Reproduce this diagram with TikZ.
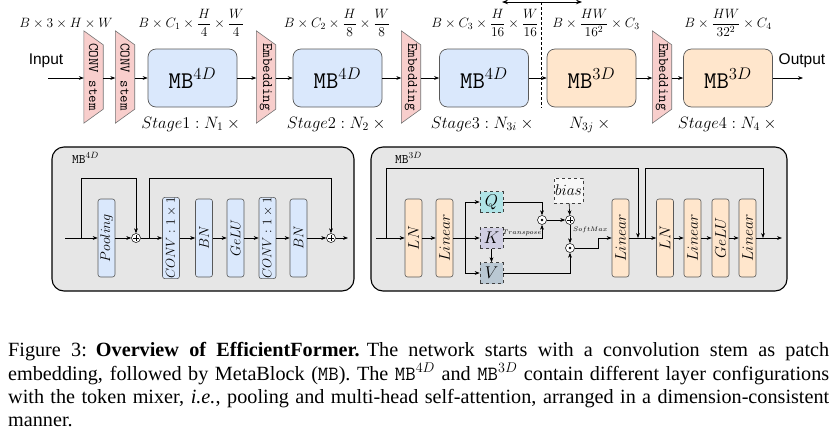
\RequirePackage{fix-cm}
\documentclass[tikz,border=0pt]{standalone}
\usepackage{fontspec}
\newfontfamily\capfont{Liberation Serif}
\newfontfamily\lsans{Liberation Sans}
\usetikzlibrary{arrows.meta,calc}
\definecolor{blu}{HTML}{DAE8FC}
\definecolor{org}{HTML}{FFE6CC}
\definecolor{pnk}{HTML}{F8CECC}
\definecolor{qcol}{HTML}{B0E3E6}
\definecolor{kcol}{HTML}{D0CEE2}
\definecolor{vcol}{HTML}{BAC8D3}
\definecolor{bcol}{HTML}{F7F7F7}
\definecolor{panelc}{HTML}{E6E6E6}
\begin{document}
\begin{tikzpicture}[x=1pt,y=-1pt,
  arr/.style={-{Stealth[length=5pt,width=3.8pt]}, line width=0.6pt, draw=black},
  lnk/.style={line width=0.6pt, draw=black},
  mbf/.style={draw=black!65, line width=0.7pt, rounded corners=8pt, minimum width=89pt, minimum height=58pt, inner sep=0pt, font=\fontsize{24}{28}\selectfont},
  mbfour/.style={mbf, fill=blu},
  mbthree/.style={mbf, fill=org},
  trapn/.style={minimum width=19pt, minimum height=92pt, inner sep=0pt},
  trapd/.style={draw=black!55, fill=pnk, line width=0.6pt},
  traptxt/.style={rotate=-90, font=\ttfamily\fontsize{14.5}{16}\selectfont, inner sep=0pt},
  lbl/.style={anchor=base, inner sep=0pt, font=\fontsize{13.5}{16}\selectfont},
  stg/.style={anchor=base, inner sep=0pt, font=\fontsize{16.5}{19}\selectfont},
  iolbl/.style={anchor=base, inner sep=0pt, font=\lsans\fontsize{15.5}{18}\selectfont},
  pbox/.style={rotate=90, draw=black!65, line width=0.6pt, rounded corners=2.5pt, minimum width=78pt, minimum height=17pt, inner sep=0pt},
  pbl/.style={pbox, fill=blu, font=\fontsize{14}{16}\selectfont},
  por/.style={pbox, fill=org, font=\fontsize{15.5}{18}\selectfont},
  qkv/.style={draw=black!75, dashed, line width=0.6pt, minimum width=23pt, minimum height=21pt, inner sep=0pt, font=\fontsize{17}{19}\selectfont},
  opc/.style={circle, draw=black, fill=white, line width=0.5pt, minimum size=9pt, inner sep=0pt},
  plusc/.style={opc, path picture={\draw[black, line width=0.4pt] ($(path picture bounding box.center)+(-2.6,0)$) -- ($(path picture bounding box.center)+(2.6,0)$) ($(path picture bounding box.center)+(0,-2.6)$) -- ($(path picture bounding box.center)+(0,2.6)$);}},
  dotc/.style={opc, path picture={\fill[black] (path picture bounding box.center) circle (1.3pt);}},
  panelbox/.style={draw=black, line width=1.1pt, fill=panelc, rounded corners=12pt},
  plbl/.style={anchor=base west, inner sep=0pt, font=\fontsize{13}{15}\selectfont},
  tinylbl/.style={inner sep=0pt, font=\fontsize{6.5}{8}\selectfont}
]
\useasboundingbox (0,0) rectangle (831,432);

% ---------------- top row ----------------
\coordinate (tl) at (502,2);
\coordinate (tr) at (582,2);
\coordinate (dtop) at (541,2);
\coordinate (dbot) at (541,108);
\draw[{Stealth[length=6pt,width=4.5pt]}-{Stealth[length=6pt,width=4.5pt]}, line width=0.8pt] (tl) -- (tr);
\draw[densely dashed, line width=0.5pt] (dtop) -- (dbot);

\node[iolbl] (inp) at (46,64.5) {Input};
\node[iolbl] (outp) at (802,64.5) {Output};
\coordinate (ins) at (48,78);
\coordinate (oute) at (803,78);

\node[trapn] (s1) at (93.5,77) {};
\node[trapn] (s2) at (125,77) {};
\node[trapn] (e1) at (266,77) {};
\node[trapn] (e2) at (411,77) {};
\node[trapn] (e3) at (662,77) {};
\foreach \t in {s1,s2,e1,e2,e3}{
  \draw[trapd] (\t.north west) -- ($(\t.north east)+(0,14)$) -- ($(\t.south east)+(0,-14)$) -- (\t.south west) -- cycle;
}
\node[traptxt] (s1t) at (s1) {CONV stem};
\node[traptxt] (s2t) at (s2) {CONV stem};
\node[traptxt] (e1t) at (e1) {Embedding};
\node[traptxt] (e2t) at (e2) {Embedding};
\node[traptxt] (e3t) at (e3) {Embedding};

\node[mbfour] (m1) at (192.5,78) {{\ttfamily MB}$^{4D}$};
\node[mbfour] (m2) at (337.5,78) {{\ttfamily MB}$^{4D}$};
\node[mbfour] (m3) at (484,78) {{\ttfamily MB}$^{4D}$};
\node[mbthree] (m4) at (591.5,78) {{\ttfamily MB}$^{3D}$};
\node[mbthree] (m5) at (728,78) {{\ttfamily MB}$^{3D}$};

\draw[arr] (ins) -- (s1.west |- ins);
\draw[arr] (s1.east |- ins) -- (s2.west |- ins);
\draw[arr] (s2.east |- ins) -- (m1);
\draw[arr] (m1) -- (e1.west |- m1);
\draw[arr] (e1.east |- m1) -- (m2);
\draw[arr] (m2) -- (e2.west |- m2);
\draw[arr] (e2.east |- m2) -- (m3);
\draw[arr] (m3) -- (m4);
\draw[arr] (m4) -- (e3.west |- m4);
\draw[arr] (e3.east |- m4) -- (m5);
\draw[arr] (m5) -- (oute);

\node[lbl] (l0) at (66,27.5) {$B\times 3\times H\times W$};
\node[lbl] (l1) at (191.5,27.5) {$\displaystyle B\times C_1\times\frac{H}{4}\times\frac{W}{4}$};
\node[lbl] (l2) at (337,27.5) {$\displaystyle B\times C_2\times\frac{H}{8}\times\frac{W}{8}$};
\node[lbl] (l3) at (485,27.5) {$\displaystyle B\times C_3\times\frac{H}{16}\times\frac{W}{16}$};
\node[lbl] (l4) at (596,27.5) {$\displaystyle B\times\frac{HW}{16^2}\times C_3$};
\node[lbl] (l5) at (728,27.5) {$\displaystyle B\times\frac{HW}{32^2}\times C_4$};

\node[stg] (g1) at (192.5,128) {$Stage1:N_1\times{}$};
\node[stg] (g2) at (338,128) {$Stage2:N_2\times{}$};
\node[stg] (g3) at (484,128) {$Stage3:N_{3i}\times{}$};
\node[stg] (g4) at (591.5,128) {$N_{3j}\times{}$};
\node[stg] (g5) at (729,128) {$Stage4:N_4\times{}$};

% ---------------- bottom-left panel ----------------
\draw[panelbox] (52,147) rectangle (354,291);
\node[plbl] (pl1) at (72,163) {\texttt{MB}$^{4D}$};
\coordinate (a0) at (65,238);
\coordinate (a1) at (81,238);
\node[pbl] (pool) at (106.5,238) {$Pooling$};
\node[plusc] (p1) at (136,238) {};
\coordinate (a2) at (149,238);
\node[pbl, font=\fontsize{13}{15}\selectfont] (cv1) at (171,238) {$CONV:1\times1$};
\node[pbl] (bn1) at (204,238) {$BN$};
\node[pbl] (ge1) at (235.5,238) {$GeLU$};
\node[pbl, font=\fontsize{13}{15}\selectfont] (cv2) at (267.5,238) {$CONV:1\times1$};
\node[pbl] (bn2) at (298.5,238) {$BN$};
\node[plusc] (p2) at (331,238) {};
\coordinate (a3) at (348,238);

\draw[arr] (a0) -- (pool);
\draw[arr] (pool) -- (p1);
\draw[arr] (p1) -- (cv1);
\draw[arr] (cv1) -- (bn1);
\draw[arr] (bn1) -- (ge1);
\draw[arr] (ge1) -- (cv2);
\draw[arr] (cv2) -- (bn2);
\draw[arr] (bn2) -- (p2);
\draw[arr] (p2) -- (a3);
\draw[arr] (a1) -- ++(0,-60) -| (p1);
\draw[arr] (a2) -- ++(0,-60) -| (p2);

% ---------------- bottom-right panel ----------------
\draw[panelbox] (371,147) rectangle (787,291);
\node[plbl] (pl2) at (395,163) {\texttt{MB}$^{3D}$};
\coordinate (b0) at (376,238);
\coordinate (b1) at (386,238);
\node[por] (ln1) at (413.5,238) {$LN$};
\node[por] (li1) at (444.5,238) {$Linear$};
\coordinate (b2) at (465,238);
\node[qkv, fill=qcol] (q) at (491.5,202) {$Q$};
\node[qkv, fill=kcol] (k) at (491.5,238) {$K$};
\node[qkv, fill=vcol] (v) at (491.5,273) {$V$};
\node[dotc] (o1) at (542,220) {};
\node[plusc] (p3) at (570,220) {};
\node[qkv, fill=bcol, minimum width=29pt, minimum height=25pt, font=\fontsize{15.5}{17}\selectfont] (bias) at (568.5,190.5) {$bias$};
\node[dotc] (o2) at (570,248) {};
\coordinate (b3) at (598,248);
\coordinate (b4) at (598,238);
\node[por] (li2) at (620.5,238) {$Linear$};
\coordinate (b5) at (638,238);
\coordinate (b6) at (645,238);
\node[por] (ln2) at (665,238) {$LN$};
\node[por] (li3) at (692.5,238) {$Linear$};
\node[por] (ge2) at (720.5,238) {$GeLU$};
\node[por] (li4) at (747.5,238) {$Linear$};
\coordinate (b7) at (763,238);
\coordinate (b8) at (782,238);

\draw[arr] (b0) -- (ln1);
\draw[arr] (ln1) -- (li1);
\draw[lnk] (li1) -- (b2);
\draw[arr] (b2) -- (k);
\draw[arr] (b2) |- (q);
\draw[arr] (b2) |- (v);
\draw[arr] (k) -- (v);
\draw[arr] (q) -| (o1);
\draw[arr] (k) -| (o1);
\node[tinylbl] (trn) at (522,233) {$Transpose$};
\draw[arr] (o1) -- (p3);
\draw[arr] (bias) -- (p3);
\draw[arr] (p3) -- (o2);
\node[tinylbl, anchor=west] (smx) at (573,230) {$SoftMax$};
\draw[arr] (v) -| (o2);
\draw[arr] (o2) -- (b3) -- (b4) -- (li2);
\draw[arr] (li2) -- (ln2);
\draw[arr] (ln2) -- (li3);
\draw[arr] (li3) -- (ge2);
\draw[arr] (ge2) -- (li4);
\draw[arr] (li4) -- (b8);
\draw[arr] (b1) -- ++(0,-70) -| (b5);
\draw[arr] (b6) -- ++(0,-70) -| (b7);

% ---------------- caption ----------------
\node[anchor=north west, inner sep=0pt, align=left, font=\capfont\fontsize{20.2}{23.3}\selectfont] (cap) at (8,342.5) {%
\makebox[821pt][s]{Figure 3:\hspace{0.45em}\textbf{Overview of EfficientFormer.}\hspace{0.35em}The network starts with a convolution stem as patch}\\
\makebox[821pt][s]{embedding, followed by MetaBlock (\texttt{MB}). The \texttt{MB}$^{4D}$ and \texttt{MB}$^{3D}$ contain different layer configurations}\\
\makebox[821pt][s]{with the token mixer, \emph{i.e.}, pooling and multi-head self-attention, arranged in a dimension-consistent}\\
manner.};
\end{tikzpicture}
\end{document}
